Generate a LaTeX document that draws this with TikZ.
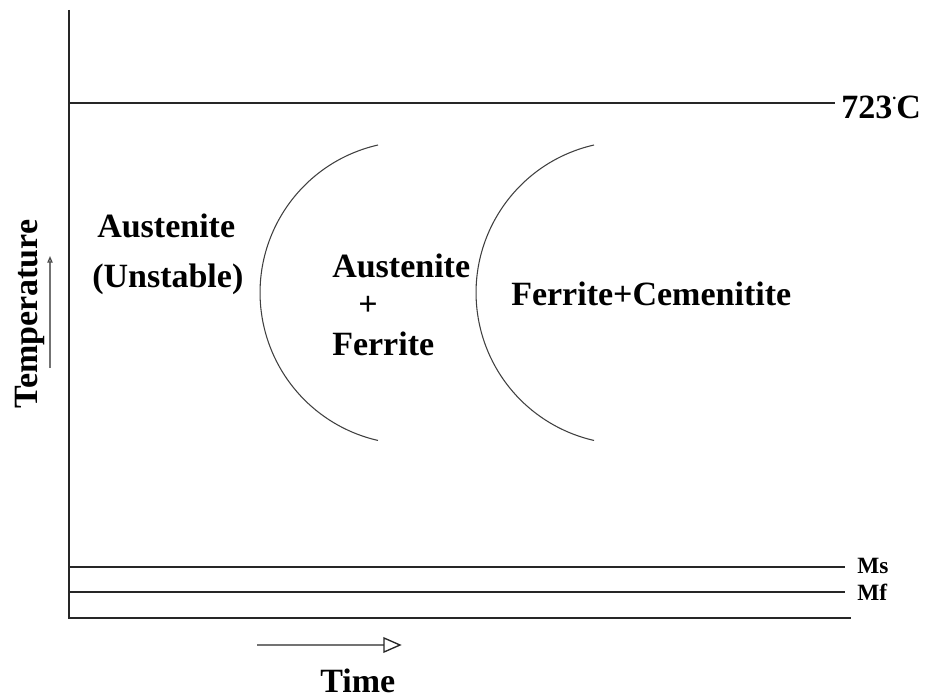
\documentclass[tikz,border=0pt]{standalone}
\usepackage{fontspec}
\setmainfont{Liberation Serif}
\usetikzlibrary{arrows.meta}
\begin{document}
\begin{tikzpicture}[x=0.75pt,y=-0.75pt,
  axis/.style={line width=1.3pt,black!85},
  arcline/.style={line width=0.8pt,black!75},
  lbl/.style={font=\fontsize{25.5}{30}\selectfont\bfseries,inner sep=0pt,anchor=base west},
  small/.style={font=\fontsize{17.5}{20}\selectfont\bfseries,inner sep=0pt,anchor=base west},
  grayarrowb/.style={line width=1pt,black!55,-{Triangle[open,length=5pt,width=4pt,black!70]}}]
\useasboundingbox (0,0) rectangle (934,699);
% axes
\coordinate (otop) at (69,10);
\coordinate (o) at (69,618);
\coordinate (xend) at (851,618);
\draw[axis] (otop) -- (o) -- (xend);
% 723 line
\coordinate (t0) at (69,103);
\coordinate (t1) at (835,103);
\draw[axis] (t0) -- (t1);
\node[lbl] (temp723) at (841,118) {723\raisebox{0.55em}{\fontsize{12}{12}\selectfont.}C};
% Ms, Mf
\coordinate (ms0) at (69,567);
\coordinate (ms1) at (845,567);
\draw[axis] (ms0) -- (ms1);
\node[small] (ms) at (857,573) {Ms};
\coordinate (mf0) at (69,592);
\coordinate (mf1) at (845,592);
\draw[axis] (mf0) -- (mf1);
\node[small] (mf) at (857,600) {Mf};
% arcs
\coordinate (a1) at (378,145);
\draw[arcline] (a1) arc[start angle=-102.8, end angle=-257.2, radius=151.5];
\coordinate (a2) at (594,145);
\draw[arcline] (a2) arc[start angle=-102.8, end angle=-257.2, radius=151.5];
% texts
\node[lbl] (aus1) at (97,237) {Austenite};
\node[lbl] (uns) at (92,287) {(Unstable)};
\node[lbl] (aus2) at (332,277) {Austenite};
\node[lbl,anchor=center] (plus) at (368,306) {+};
\node[lbl] (fer) at (332,355) {Ferrite};
\node[lbl] (fc) at (511,305) {Ferrite+Cemenitite};
% Temperature
\node[lbl,rotate=90,anchor=base] (tlab) at (37,314) {Temperature};
\coordinate (ta0) at (50,368);
\coordinate (ta1) at (50,256);
\draw[grayarrowb] (ta0) -- (ta1);
% Time
\coordinate (ti0) at (257,645);
\coordinate (ti1) at (400,645);
\draw[line width=1pt,black!55] (ti0) -- (384,645);
\draw[line width=1pt,black!85,line join=miter] (384,638) -- (ti1) -- (384,652) -- cycle;
\node[lbl] (time) at (320,692) {Time};
\end{tikzpicture}
\end{document}
